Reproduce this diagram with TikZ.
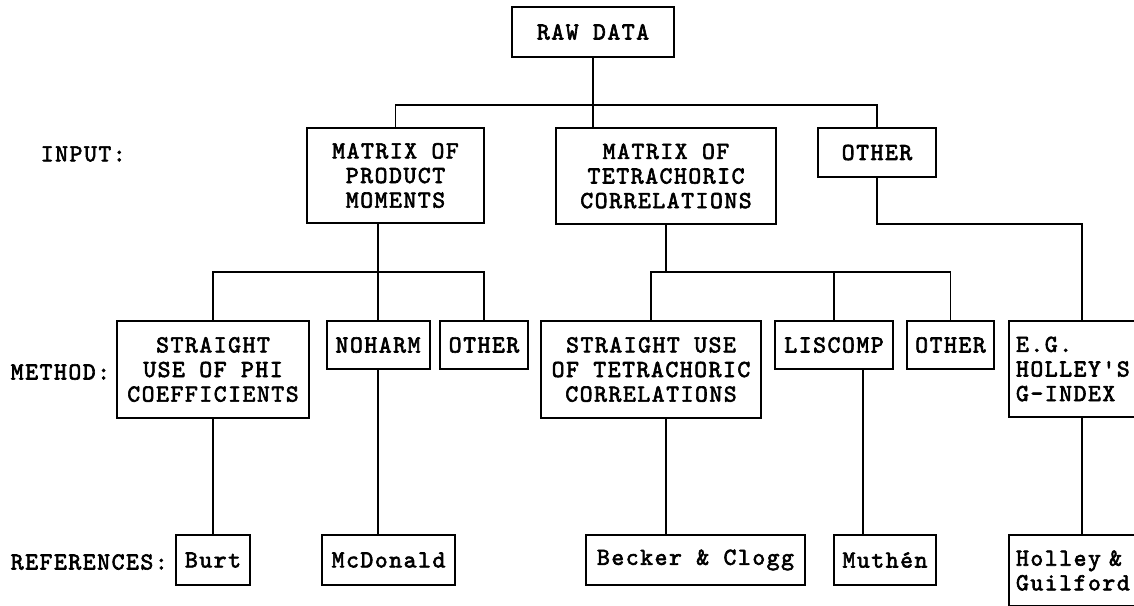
\documentclass[tikz,border=0pt]{standalone}
\usepackage{fontspec}
\setmonofont{lmmono10-regular}[Extension=.otf, AutoFakeBold=2.5, LetterSpace=6.3]
\usepackage{tikz}

\begin{document}
\begin{tikzpicture}[x=1pt, y=-1pt, line width=1.6pt,
    every node/.style={font=\fontsize{24.5}{24.6}\selectfont\ttfamily\bfseries},
    box/.style={draw, rectangle, line width=2pt, inner sep=0pt, align=center},
    lbox/.style={box, align=left, inner xsep=7pt, text width=132pt},
    lbl/.style={anchor=west, inner sep=0pt}]
    \useasboundingbox (0,0) rectangle (1134,605);
    \clip (0,0) rectangle (1134,605);

    % Raw data
    \node[box, minimum width=162pt, minimum height=50pt] (raw) at (593,32) {RAW DATA};

    % Input
    \node[lbl] (input) at (40,154) {INPUT:};
    \node[box, minimum width=177pt, minimum height=95pt] (prod) at (395.5,175.5) {MATRIX OF\\PRODUCT\\MOMENTS};
    \node[box, minimum width=220pt, minimum height=96pt] (tetra) at (666,176) {MATRIX OF\\TETRACHORIC\\CORRELATIONS};
    \node[box, minimum width=118pt, minimum height=49pt] (othin) at (877,152.5) {OTHER};

    % Method
    \node[lbl] (method) at (10,372) {METHOD:};
    \node[box, minimum width=192pt, minimum height=97pt] (phi) at (213,369.5) {STRAIGHT\\USE OF PHI\\COEFFICIENTS};
    \node[box, minimum width=103pt, minimum height=48pt] (noharm) at (378,345) {NOHARM};
    \node[box, minimum width=88pt, minimum height=48pt] (oth1) at (484,345) {OTHER};
    \node[box, minimum width=220pt, minimum height=97pt] (tstr) at (651,369.5) {STRAIGHT USE\\OF TETRACHORIC\\CORRELATIONS};
    \node[box, minimum width=118pt, minimum height=48pt] (lis) at (834,345) {LISCOMP};
    \node[box, minimum width=87pt, minimum height=48pt] (oth2) at (950.5,345) {OTHER};
    \node[lbox, minimum height=96pt] (eg) at (1082,369) {E.G.\\HOLLEY'S\\G-INDEX};

    % References
    \node[lbl] (refs) at (10,562) {REFERENCES:};
    \node[box, minimum width=74pt, minimum height=50pt] (burt) at (213,560) {Burt};
    \node[box, minimum width=133pt, minimum height=50pt] (mcd) at (388.5,560) {McDonald};
    \node[box, minimum width=219pt, minimum height=50pt] (becker) at (695.5,560) {Becker \& Clogg};
    \node[box, minimum width=102pt, minimum height=50pt] (muth) at (885,560) {Muthén};
    \node[lbox, minimum height=71pt] (holley) at (1082,570.5) {Holley \&\\Guilford};

    % Bar heights
    \coordinate (bartop) at (0,105);
    \coordinate (barmid) at (0,272);
    \coordinate (barrt) at (0,224);

    % Lines
    \draw (prod.north) -- (prod.north |- bartop) -| (othin.north);
    \draw (raw.south) -- (raw.south |- tetra.north);
    \draw (prod.south -| noharm.north) -- (noharm.north);
    \draw (phi.north) -- (phi.north |- barmid) -| (oth1.north);
    \draw (tetra.south) -- (tetra.south |- barmid);
    \draw (tstr.north) -- (tstr.north |- barmid) -| (oth2.north);
    \draw (lis.north) -- (lis.north |- barmid);
    \draw (othin.south) -- (othin.south |- barrt) -| (eg.north);
    \draw (phi.south) -- (burt.north);
    \draw (noharm.south) -- (noharm.south |- mcd.north);
    \draw (tetra.south |- tstr.south) -- (tetra.south |- becker.north);
    \draw ([xshift=29pt]lis.south) -- ([xshift=29pt]lis.south |- muth.north);
    \draw (eg.south) -- (holley.north);
\end{tikzpicture}
\end{document}
